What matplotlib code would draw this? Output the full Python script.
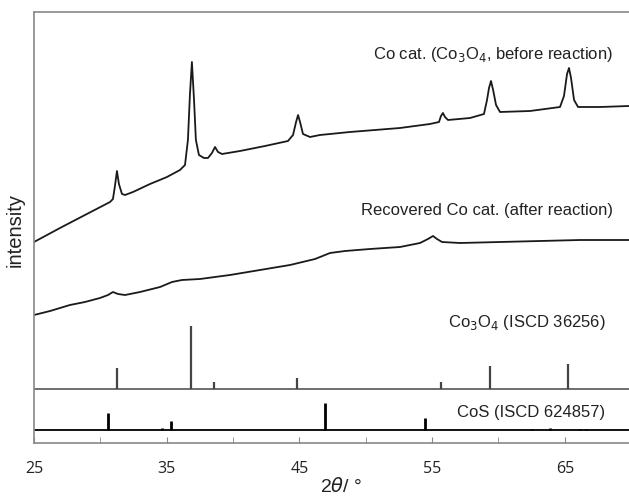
import matplotlib
matplotlib.use("Agg")
import matplotlib.pyplot as plt

# XRD pattern of fresh Co cat. (2theta, intensity in arbitrary units)
fresh_2theta = [25.0, 26.96, 28.84, 30.73, 30.95, 31.1, 31.25, 31.4, 31.63, 31.86,
                32.46, 33.74, 35.02, 36.0, 36.38, 36.6, 36.75, 36.9, 37.06, 37.2,
                37.43, 37.81, 38.11, 38.41, 38.64, 38.87, 39.17, 40.52, 42.41, 44.14,
                44.52, 44.75, 44.9, 45.05, 45.27, 45.8, 46.55, 48.81, 52.58, 54.84,
                55.52, 55.67, 55.82, 55.97, 56.2, 57.86, 58.91, 59.14, 59.29, 59.44,
                59.6, 59.82, 60.12, 62.38, 64.64, 64.94, 65.17, 65.32, 65.47, 65.7,
                66.0, 67.66, 69.84]
fresh_int = [201, 215, 228, 241, 244, 257, 272, 259, 249, 248,
             251, 259, 266, 273, 278, 303, 348, 381, 343, 303,
             288, 285, 285, 290, 296, 291, 289, 292, 297, 302,
             308, 321, 328, 321, 309, 306, 308, 311, 315, 319,
             321, 327, 330, 326, 323, 325, 329, 343, 355, 362,
             353, 338, 331, 332, 336, 347, 369, 375, 365, 343,
             336, 336, 337]

# recovered Co cat. after reaction
rec_2theta = [25.0, 26.21, 27.71, 28.84, 29.97, 30.58, 30.95, 31.33, 31.86, 32.99,
              34.5, 35.4, 36.15, 37.51, 39.77, 42.03, 44.29, 46.18, 47.31, 48.44,
              50.32, 52.58, 54.09, 54.69, 55.07, 55.37, 55.75, 57.1, 60.12, 63.13,
              66.15, 69.84]
rec_int = [128, 132, 138, 141, 145, 148, 151, 149, 148, 151,
           156, 161, 163, 164, 168, 173, 178, 184, 190, 192,
           194, 196, 200, 204, 207, 204, 201, 200, 201, 202,
           203, 203]

# reference patterns (stick positions, stick heights)
co3o4_pos = [31.27, 36.85, 38.55, 44.81, 55.66, 59.36, 65.24]
co3o4_h = [21, 63, 7, 11, 7, 23, 25]
cos_pos = [30.6, 34.65, 35.3, 46.95, 54.45, 62.55, 63.85, 66.15, 66.6]
cos_h = [17, 2, 9, 27, 12, 1.5, 2, 1.5, 1.5]

co3o4_base = 54
cos_base = 13

plt.rcParams['font.family'] = ['Liberation Sans', 'DejaVu Sans']

fig = plt.figure(figsize=(6.29, 4.97), dpi=100)
ax = fig.add_axes([34 / 629, 1 - 443 / 497, 1 - 34 / 629, (443 - 12) / 497])

ax.plot(fresh_2theta, fresh_int, color='#1a1a1a', lw=1.3)
ax.plot(rec_2theta, rec_int, color='#1a1a1a', lw=1.3)

ax.axhline(co3o4_base, color='#555555', lw=1.2)
ax.vlines(co3o4_pos, co3o4_base, [co3o4_base + h for h in co3o4_h], color='#444444', lw=1.6)
ax.axhline(cos_base, color='#111111', lw=1.4)
ax.vlines(cos_pos, cos_base, [cos_base + h for h in cos_h], color='#000000', lw=2.0)

fs = 12
ax.text(68.65, 389, 'Co cat. (Co$_3$O$_4$, before reaction)', ha='right', va='center', fontsize=fs, color='#222222')
ax.text(68.6, 233, 'Recovered Co cat. (after reaction)', ha='right', va='center', fontsize=fs, color='#222222')
ax.text(68.1, 121, 'Co$_3$O$_4$ (ISCD 36256)', ha='right', va='center', fontsize=fs, color='#222222')
ax.text(68.05, 31, 'CoS (ISCD 624857)', ha='right', va='center', fontsize=fs, color='#222222')

ax.set_xlim(25, 69.84)
ax.set_ylim(0, 431)
ax.set_xticks([25, 35, 45, 55, 65])
ax.set_xticks([30, 40, 50, 60], minor=True)
ax.set_yticks([])
ax.tick_params(axis='x', which='both', direction='in', length=4, color='#888888',
               labelsize=11.5, pad=13)
for lab in ax.get_xticklabels():
    lab.set_family('Open Sans')
    lab.set_color('#222222')

for side in ['top', 'left', 'bottom']:
    ax.spines[side].set_color('#888888')
    ax.spines[side].set_linewidth(1.2)
ax.spines['right'].set_visible(False)

ax.set_ylabel('intensity', fontsize=14.5, color='#222222')
ax.yaxis.set_label_coords(-0.016, 0.495)
ax.set_xlabel('2$\\it{\\theta}$/ °', fontsize=14, color='#222222')
ax.xaxis.set_label_coords(0.516, -0.078)

plt.savefig('out.png', dpi=100)
